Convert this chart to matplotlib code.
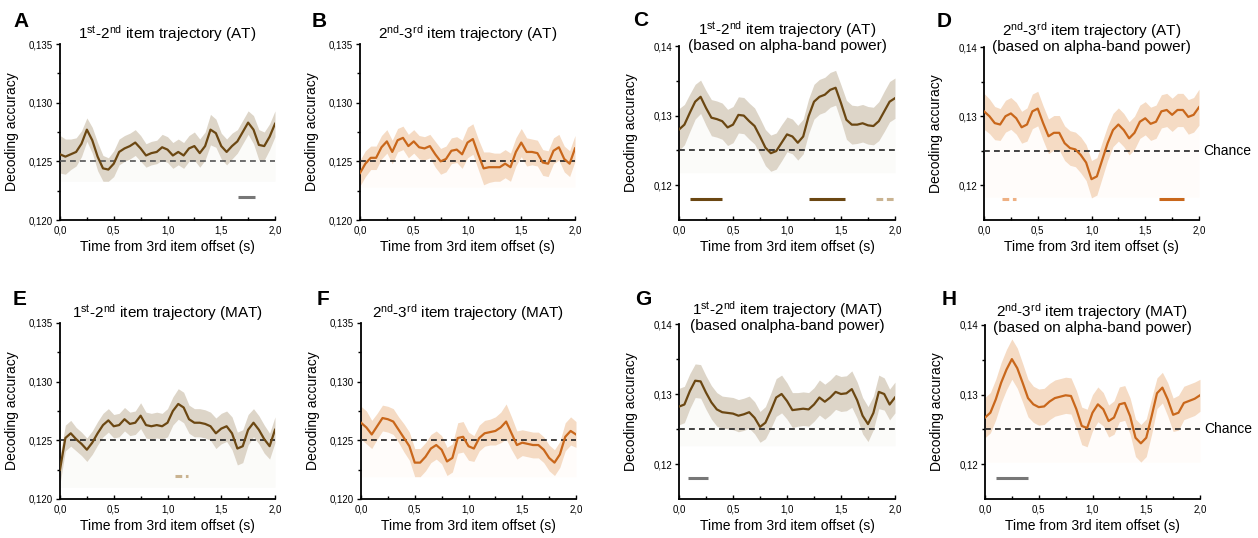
import numpy as np
import matplotlib.pyplot as plt

plt.rcParams['font.family'] = ['Liberation Sans', 'DejaVu Sans']
plt.rcParams['mathtext.fontset'] = 'custom'
plt.rcParams['mathtext.rm'] = 'Liberation Sans'
plt.rcParams['mathtext.default'] = 'regular'

# time axis (s), sampled every 50 ms
t = np.linspace(0, 2, 41)

# mean decoding accuracy per panel
acc_A = [0.1256, 0.1254, 0.1256, 0.1258, 0.1265, 0.1277, 0.1268, 0.1254, 0.1244, 0.1243, 0.1248,
         0.1258, 0.1261, 0.1263, 0.1266, 0.1261, 0.1255, 0.1257, 0.1258, 0.1262, 0.1260,
         0.1255, 0.1258, 0.1255, 0.1261, 0.1263, 0.1257, 0.1263, 0.1277, 0.1274, 0.1263,
         0.1258, 0.1263, 0.1267, 0.1275, 0.1283, 0.1277, 0.1264, 0.1263, 0.1271, 0.1282]
acc_B = [0.1240, 0.1248, 0.1253, 0.1253, 0.1262, 0.1267, 0.1258, 0.1268, 0.1270, 0.1263, 0.1267,
         0.1262, 0.1261, 0.1263, 0.1256, 0.1250, 0.1252, 0.1259, 0.1260, 0.1256, 0.1266,
         0.1269, 0.1256, 0.1244, 0.1245, 0.1245, 0.1245, 0.1248, 0.1245, 0.1258, 0.1266,
         0.1258, 0.1258, 0.1257, 0.1249, 0.1248, 0.1259, 0.1262, 0.1252, 0.1248, 0.1261]
acc_C = [0.1280, 0.1287, 0.1304, 0.1320, 0.1327, 0.1311, 0.1297, 0.1295, 0.1292, 0.1283, 0.1287,
         0.1301, 0.1300, 0.1292, 0.1285, 0.1270, 0.1254, 0.1246, 0.1249, 0.1261, 0.1273,
         0.1270, 0.1261, 0.1270, 0.1299, 0.1320, 0.1327, 0.1330, 0.1337, 0.1340, 0.1318,
         0.1294, 0.1287, 0.1287, 0.1289, 0.1286, 0.1285, 0.1292, 0.1306, 0.1320, 0.1325]
acc_D = [0.1307, 0.1300, 0.1290, 0.1288, 0.1300, 0.1304, 0.1297, 0.1284, 0.1288, 0.1307, 0.1311,
         0.1290, 0.1271, 0.1276, 0.1276, 0.1261, 0.1254, 0.1252, 0.1244, 0.1233, 0.1209,
         0.1213, 0.1237, 0.1261, 0.1280, 0.1288, 0.1280, 0.1268, 0.1276, 0.1292, 0.1297,
         0.1289, 0.1292, 0.1307, 0.1309, 0.1302, 0.1309, 0.1309, 0.1299, 0.1302, 0.1313]
acc_E = [0.1225, 0.1252, 0.1256, 0.1251, 0.1247, 0.1242, 0.1248, 0.1256, 0.1263, 0.1267, 0.1262,
         0.1263, 0.1268, 0.1264, 0.1265, 0.1271, 0.1263, 0.1262, 0.1263, 0.1262, 0.1265,
         0.1275, 0.1281, 0.1278, 0.1268, 0.1265, 0.1265, 0.1264, 0.1262, 0.1256, 0.1260,
         0.1262, 0.1256, 0.1243, 0.1245, 0.1259, 0.1265, 0.1259, 0.1251, 0.1245, 0.1259]
acc_F = [0.1265, 0.1261, 0.1255, 0.1262, 0.1269, 0.1268, 0.1266, 0.1259, 0.1252, 0.1245, 0.1231,
         0.1231, 0.1236, 0.1243, 0.1246, 0.1242, 0.1232, 0.1235, 0.1252, 0.1253, 0.1245,
         0.1243, 0.1252, 0.1256, 0.1257, 0.1258, 0.1261, 0.1266, 0.1256, 0.1246, 0.1248,
         0.1247, 0.1246, 0.1246, 0.1242, 0.1235, 0.1231, 0.1238, 0.1253, 0.1258, 0.1255]
acc_G = [0.1282, 0.1285, 0.1304, 0.1319, 0.1318, 0.1302, 0.1288, 0.1278, 0.1274, 0.1273, 0.1272,
         0.1269, 0.1271, 0.1274, 0.1266, 0.1253, 0.1259, 0.1276, 0.1295, 0.1300, 0.1290,
         0.1277, 0.1278, 0.1279, 0.1278, 0.1285, 0.1295, 0.1289, 0.1295, 0.1303, 0.1300,
         0.1301, 0.1307, 0.1291, 0.1269, 0.1257, 0.1273, 0.1303, 0.1300, 0.1285, 0.1295]
acc_H = [0.1267, 0.1274, 0.1293, 0.1317, 0.1336, 0.1351, 0.1338, 0.1317, 0.1295, 0.1286, 0.1282,
         0.1283, 0.1290, 0.1295, 0.1297, 0.1299, 0.1298, 0.1279, 0.1255, 0.1252, 0.1274,
         0.1286, 0.1279, 0.1262, 0.1267, 0.1286, 0.1288, 0.1269, 0.1238, 0.1230, 0.1238,
         0.1269, 0.1302, 0.1310, 0.1293, 0.1271, 0.1274, 0.1288, 0.1291, 0.1294, 0.1299]

# half-width of the shaded error band
sem_A = [0.0016, 0.0015, 0.0013, 0.0012, 0.0011, 0.0010, 0.0011, 0.0012, 0.0011, 0.0010, 0.0011,
         0.0011, 0.0011, 0.0011, 0.0011, 0.0011, 0.0010, 0.0010, 0.0010, 0.0011, 0.0011,
         0.0011, 0.0011, 0.0011, 0.0011, 0.0012, 0.0012, 0.0012, 0.0013, 0.0012, 0.0011,
         0.0011, 0.0011, 0.0010, 0.0010, 0.0010, 0.0012, 0.0013, 0.0012, 0.0011, 0.0011]
sem_B = [0.0011, 0.0011, 0.0010, 0.0010, 0.0010, 0.0010, 0.0010, 0.0010, 0.0010, 0.0010, 0.0010,
         0.0010, 0.0010, 0.0010, 0.0011, 0.0011, 0.0011, 0.0011, 0.0011, 0.0012, 0.0013,
         0.0013, 0.0013, 0.0014, 0.0013, 0.0012, 0.0012, 0.0012, 0.0012, 0.0012, 0.0012,
         0.0012, 0.0011, 0.0011, 0.0011, 0.0011, 0.0011, 0.0011, 0.0011, 0.0011, 0.0011]
sem_C = [0.0030, 0.0029, 0.0027, 0.0025, 0.0024, 0.0025, 0.0026, 0.0026, 0.0026, 0.0026, 0.0026,
         0.0026, 0.0026, 0.0026, 0.0026, 0.0026, 0.0026, 0.0026, 0.0026, 0.0026, 0.0025,
         0.0025, 0.0025, 0.0025, 0.0025, 0.0025, 0.0025, 0.0025, 0.0025, 0.0025, 0.0026,
         0.0028, 0.0028, 0.0027, 0.0027, 0.0027, 0.0027, 0.0028, 0.0029, 0.0029, 0.0029]
sem_D = [0.0026, 0.0025, 0.0024, 0.0023, 0.0023, 0.0023, 0.0023, 0.0023, 0.0024, 0.0025, 0.0025,
         0.0025, 0.0025, 0.0025, 0.0025, 0.0025, 0.0025, 0.0025, 0.0026, 0.0026, 0.0027,
         0.0027, 0.0026, 0.0025, 0.0024, 0.0024, 0.0024, 0.0024, 0.0024, 0.0024, 0.0024,
         0.0024, 0.0024, 0.0024, 0.0024, 0.0024, 0.0024, 0.0024, 0.0025, 0.0025, 0.0026]
sem_E = [0.0012, 0.0011, 0.0011, 0.0010, 0.0010, 0.0010, 0.0010, 0.0010, 0.0010, 0.0010, 0.0010,
         0.0010, 0.0010, 0.0010, 0.0010, 0.0011, 0.0011, 0.0011, 0.0011, 0.0011, 0.0012,
         0.0012, 0.0013, 0.0013, 0.0012, 0.0012, 0.0012, 0.0012, 0.0012, 0.0013, 0.0013,
         0.0013, 0.0014, 0.0014, 0.0014, 0.0013, 0.0012, 0.0012, 0.0012, 0.0011, 0.0011]
sem_F = [0.0014, 0.0014, 0.0012, 0.0011, 0.0011, 0.0011, 0.0011, 0.0011, 0.0012, 0.0012, 0.0012,
         0.0012, 0.0012, 0.0012, 0.0012, 0.0012, 0.0012, 0.0012, 0.0013, 0.0013, 0.0012,
         0.0011, 0.0011, 0.0011, 0.0011, 0.0012, 0.0013, 0.0015, 0.0014, 0.0012, 0.0011,
         0.0011, 0.0011, 0.0011, 0.0011, 0.0011, 0.0011, 0.0011, 0.0012, 0.0012, 0.0011]
sem_G = [0.0026, 0.0026, 0.0025, 0.0024, 0.0024, 0.0024, 0.0024, 0.0024, 0.0023, 0.0023, 0.0023,
         0.0023, 0.0023, 0.0023, 0.0023, 0.0022, 0.0023, 0.0025, 0.0027, 0.0027, 0.0026,
         0.0025, 0.0024, 0.0024, 0.0024, 0.0024, 0.0025, 0.0025, 0.0025, 0.0025, 0.0025,
         0.0025, 0.0026, 0.0026, 0.0026, 0.0025, 0.0024, 0.0024, 0.0023, 0.0022, 0.0022]
sem_H = [0.0029, 0.0029, 0.0029, 0.0029, 0.0029, 0.0029, 0.0029, 0.0028, 0.0027, 0.0026, 0.0026,
         0.0026, 0.0026, 0.0026, 0.0026, 0.0026, 0.0026, 0.0027, 0.0027, 0.0027, 0.0026,
         0.0025, 0.0024, 0.0023, 0.0024, 0.0025, 0.0025, 0.0026, 0.0027, 0.0027, 0.0027,
         0.0026, 0.0022, 0.0022, 0.0024, 0.0024, 0.0025, 0.0024, 0.0024, 0.0024, 0.0023]

# faint lower edge of the Origin-style fill
base = {'A': 0.1233, 'B': 0.1228, 'C': 0.1218, 'D': 0.1183,
        'E': 0.1210, 'F': 0.1219, 'G': 0.1226, 'H': 0.1203}

# significance bars: (start s, end s, height, kind)
sig_A = [(1.66, 1.81, 0.1220, 'gray')]
sig_B = []
sig_C = [(0.10, 0.40, 0.1180, 'solid'), (1.20, 1.54, 0.1180, 'solid'), (1.82, 2.00, 0.1180, 'dashed')]
sig_D = [(0.17, 0.30, 0.1180, 'dashed'), (1.63, 1.86, 0.1180, 'solid')]
sig_E = [(1.07, 1.19, 0.1220, 'dashed')]
sig_F = []
sig_G = [(0.08, 0.27, 0.1180, 'gray')]
sig_H = [(0.10, 0.40, 0.1180, 'gray')]

titles = {
    'A': ['1$^{st}$-2$^{nd}$ item trajectory (AT)'],
    'B': ['2$^{nd}$-3$^{rd}$ item trajectory (AT)'],
    'C': ['1$^{st}$-2$^{nd}$ item trajectory (AT)', '(based on alpha-band power)'],
    'D': ['2$^{nd}$-3$^{rd}$ item trajectory (AT)', '(based on alpha-band power)'],
    'E': ['1$^{st}$-2$^{nd}$ item trajectory (MAT)'],
    'F': ['2$^{nd}$-3$^{rd}$ item trajectory (MAT)'],
    'G': ['1$^{st}$-2$^{nd}$ item trajectory (MAT)', '(based onalpha-band power)'],
    'H': ['2$^{nd}$-3$^{rd}$ item trajectory (MAT)', '(based on alpha-band power)'],
}

xticks = [0.0, 0.5, 1.0, 1.5, 2.0]
xtick_labels = ['0,0', '0,5', '1,0', '1,5', '2,0']
yticks_raw = [0.120, 0.125, 0.130, 0.135]
ytick_labels_raw = ['0,120', '0,125', '0,130', '0,135']
yticks_alpha = [0.12, 0.13, 0.14]
ytick_labels_alpha = ['0,12', '0,13', '0,14']

brown = dict(line='#6b4712', band='#ddd5c8', faint='#fbfbf9', dashed='#c9b391')
orange = dict(line='#c9671b', band='#f5dbc4', faint='#fffcfa', dashed='#eeb083')

panels = [
    ('A', acc_A, sem_A, sig_A, brown, False, False),
    ('B', acc_B, sem_B, sig_B, orange, False, False),
    ('C', acc_C, sem_C, sig_C, brown, True, False),
    ('D', acc_D, sem_D, sig_D, orange, True, True),
    ('E', acc_E, sem_E, sig_E, brown, False, False),
    ('F', acc_F, sem_F, sig_F, orange, False, False),
    ('G', acc_G, sem_G, sig_G, brown, True, False),
    ('H', acc_H, sem_H, sig_H, orange, True, True),
]

# axes boxes in pixels (left, top, right, bottom)
boxes = {'A': (60, 44, 275, 220), 'B': (360, 44, 575, 220),
         'C': (679, 46, 895, 220), 'D': (984, 47, 1199, 220),
         'E': (60, 323, 275, 499), 'F': (361, 323, 576, 499),
         'G': (679, 324, 895, 499), 'H': (985, 325, 1200, 499)}
# title baselines in pixels from the top
title_px = {'A': [39], 'B': [39], 'C': [35, 50], 'D': [36, 51],
            'E': [318], 'F': [318], 'G': [315, 330], 'H': [317, 332]}
letter_pos = {'A': (13, 27), 'B': (312, 27), 'C': (633, 26), 'D': (937, 27),
              'E': (13, 305), 'F': (317, 305), 'G': (635, 305), 'H': (942, 305)}

W, H = 1258, 538
fig = plt.figure(figsize=(W / 100, H / 100), dpi=100)

for key, acc, sem, sig, col, alpha_band, chance_label in panels:
    l, tp, r, b = boxes[key]
    ax = fig.add_axes([l / W, 1 - b / H, (r - l) / W, (b - tp) / H])
    acc = np.array(acc)
    sem = np.array(sem)

    ax.fill_between(t, base[key], acc - sem, color=col['faint'], lw=0, zorder=1)
    ax.fill_between(t, acc - sem, acc + sem, color=col['band'], lw=0, zorder=2)
    ax.plot(t, acc, color=col['line'], lw=1.6, zorder=4, solid_joinstyle='round')
    chance_col = '#555555' if key == 'A' else '#222222'
    ax.plot([0, 2], [0.125, 0.125], ls=(0, (3.5, 2.5)), color=chance_col, lw=1.2, zorder=3)

    for x0, x1, y, kind in sig:
        if kind == 'gray':
            ax.plot([x0, x1], [y, y], color='#777777', lw=2.2, solid_capstyle='butt', zorder=5)
        elif kind == 'solid':
            ax.plot([x0, x1], [y, y], color=col['line'], lw=2.2, solid_capstyle='butt', zorder=5)
        else:
            ax.plot([x0, x1], [y, y], color=col['dashed'], lw=2.2, ls=(0, (2.2, 1.2)),
                    dash_capstyle='butt', zorder=5)

    if chance_label:
        ax.text(1.02, 0.125, 'Chance', transform=ax.get_yaxis_transform(),
                ha='left', va='center', fontsize=10)

    ax.set_xlim(0, 2)
    ax.set_xticks(xticks)
    ax.set_xticklabels(xtick_labels)
    ax.set_xticks([0.25, 0.75, 1.25, 1.75], minor=True)
    if alpha_band:
        ax.set_ylim(0.115, 0.14)
        ax.set_yticks(yticks_alpha)
        ax.set_yticklabels(ytick_labels_alpha)
        ax.set_yticks([0.125, 0.135], minor=True)
    else:
        ax.set_ylim(0.120, 0.135)
        ax.set_yticks(yticks_raw)
        ax.set_yticklabels(ytick_labels_raw)
        ax.set_yticks([0.1225, 0.1275, 0.1325], minor=True)

    for s in ['top', 'right']:
        ax.spines[s].set_visible(False)
    for s in ['left', 'bottom']:
        ax.spines[s].set_linewidth(1.3)
    ax.tick_params(axis='x', which='both', direction='in', labelsize=7, pad=4, width=1)
    ax.tick_params(axis='x', which='major', length=3)
    ax.tick_params(axis='x', which='minor', length=2)
    ax.tick_params(axis='y', which='both', direction='out', labelsize=7, pad=2, width=1)
    ax.tick_params(axis='y', which='major', length=3)
    ax.tick_params(axis='y', which='minor', length=2)

    ax.set_xlabel('Time from 3rd item offset (s)', fontsize=10, labelpad=3)
    ax.set_ylabel('Decoding accuracy', fontsize=10)
    ax.yaxis.set_label_coords(-41 / (r - l), 0.5)

    cx = (l + r) / 2 / W
    for line, py in zip(titles[key], title_px[key]):
        fig.text(cx, 1 - py / H, line, ha='center', va='baseline', fontsize=11)

    lx, ly = letter_pos[key]
    fig.text(lx / W, 1 - ly / H, key, fontsize=15, fontweight='bold', va='baseline')

fig.savefig('out.png', dpi=100)
